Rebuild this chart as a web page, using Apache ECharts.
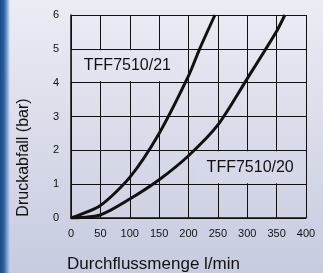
<!DOCTYPE html>
<html>
<head>
<meta charset="utf-8">
<script src="https://cdn.jsdelivr.net/npm/echarts@6/dist/echarts.min.js"></script>
<style>
  html, body { margin: 0; padding: 0; }
  body {
    width: 323px; height: 273px; overflow: hidden;
    background:
      linear-gradient(to right, #1a4a82 0px, #2a63a3 4px, #7f9cc8 7px, rgba(230,232,242,0) 10px),
      linear-gradient(#ececf4, #c6cbdf);
  }
  #chart { width: 323px; height: 273px; }
</style>
</head>
<body>
<div id="chart"></div>
<script>
// Durchfluss (l/min) vs. Druckabfall (bar)
const xTicks = [0, 50, 100, 150, 200, 250, 300, 350, 400]
const flow21 = [0, 50, 100, 150, 200, 219, 245]
const drop21 = [0, 0.37, 1.2, 2.5, 4.2, 5.0, 6.0]
const flow20 = [0, 50, 100, 150, 200, 250, 300, 350, 364]
const drop20 = [0, 0.09, 0.56, 1.13, 1.84, 2.75, 4.12, 5.52, 6.0]
const seriesNames = ['TFF7510/21', 'TFF7510/20']
const labelAt = [[96, 4.5], [305, 1.5]]

const FONT = "'Liberation Sans', Arial, sans-serif"
const INK = '#111'

const chart = echarts.init(document.getElementById('chart'), null, { renderer: 'canvas' })

function curve(name, xs, ys, at, boxColor, boxSize) {
  return {
    name,
    type: 'line',
    data: xs.map((x, i) => [x, ys[i]]),
    smooth: 0.25,
    showSymbol: false,
    lineStyle: { color: INK, width: 3 },
    z: 5,
    markPoint: {
      silent: true,
      z: 3,
      symbol: 'rect',
      symbolSize: boxSize,
      itemStyle: { color: boxColor },
      label: {
        show: true,
        formatter: name,
        color: INK,
        fontFamily: FONT,
        fontSize: 16,
      },
      data: [{ coord: at }],
    },
  }
}

chart.setOption({
  animation: false,
  backgroundColor: 'transparent',
  grid: { left: 71, right: 17, top: 15, bottom: 55, outerBoundsMode: 'none', containLabel: false },
  xAxis: {
    type: 'value',
    min: 0, max: 400, interval: 50,
    name: 'Durchflussmenge l/min',
    nameLocation: 'middle',
    nameGap: 38,
    nameTextStyle: { color: INK, fontFamily: FONT, fontSize: 17, padding: [0, 70, 0, 0] },
    axisLine: { show: true, lineStyle: { color: INK, width: 1.5 } },
    axisTick: { show: false },
    axisLabel: { color: INK, fontFamily: FONT, fontSize: 11, margin: 10,
      formatter: v => xTicks.includes(v) ? String(v) : '' },
    splitLine: { show: true, lineStyle: { color: INK, width: 1 } },
  },
  yAxis: {
    type: 'value',
    min: 0, max: 6, interval: 1,
    name: 'Druckabfall (bar)',
    nameLocation: 'middle',
    nameRotate: 90,
    nameGap: 39,
    nameTextStyle: { color: INK, fontFamily: FONT, fontSize: 16, padding: [0, 82, 0, 0] },
    axisLine: { show: true, lineStyle: { color: INK, width: 1.5 } },
    axisTick: { show: false },
    axisLabel: { color: INK, fontFamily: FONT, fontSize: 11, margin: 12 },
    splitLine: { show: true, lineStyle: { color: INK, width: 1 } },
  },
  series: [
    curve(seriesNames[0], flow21, drop21, labelAt[0], '#e3e4ef', [111, 31]),
    curve(seriesNames[1], flow20, drop20, labelAt[1], '#d4d8e8', [108, 32]),
  ],
})
</script>
</body>
</html>
